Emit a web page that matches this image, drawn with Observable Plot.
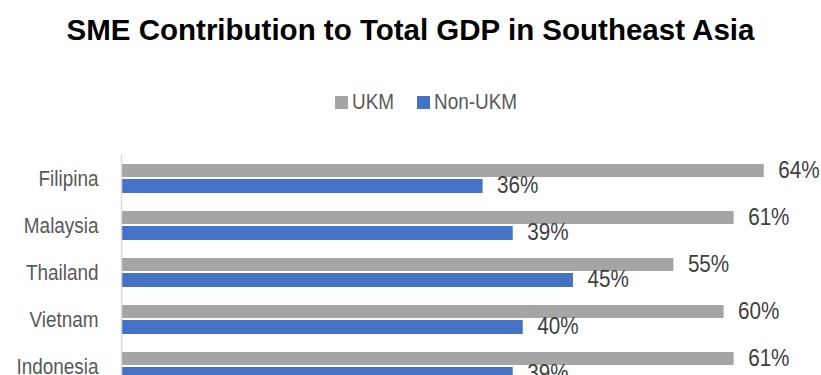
<!DOCTYPE html>
<html>
<head>
<meta charset="utf-8">
<script src="https://cdn.jsdelivr.net/npm/d3@7"></script>
<script src="https://cdn.jsdelivr.net/npm/@observablehq/plot@0.6"></script>
<style>
  html, body { margin: 0; padding: 0; background: #fff; overflow: hidden; width: 821px; height: 375px; }
  #title { height: 60px; line-height: 60px; text-align: center; font-family: "Liberation Sans", Arial, sans-serif; font-weight: bold; font-size: 29.5px; color: #000; white-space: nowrap; }
  #legend { padding-top: 30px; height: 24px; display: flex; justify-content: center; align-items: center; font-family: "Liberation Sans", Arial, sans-serif; font-size: 22px; color: #595959; gap: 23px; margin-left: 32px; }
  .item { display: flex; align-items: center; gap: 4px; }
  .sw { width: 13px; height: 13px; display: inline-block; }
  .lt { display: inline-block; transform-origin: left center; white-space: nowrap; }
  #chart svg { display: block; }
</style>
</head>
<body>
<div id="title">SME Contribution to Total GDP in Southeast Asia</div>
<div id="legend"></div>
<div id="chart"></div>
<script>
const countries = ["Filipina", "Malaysia", "Thailand", "Vietnam", "Indonesia"];
const seriesNames = ["UKM", "Non-UKM"];
const ukm = [64, 61, 55, 60, 61];
const nonUkm = [36, 39, 45, 40, 39];
const colors = ["#A5A5A5", "#4472C4"];
const condense = 0.86;

const legend = document.getElementById("legend");
seriesNames.forEach((s, i) => {
  const it = document.createElement("span");
  it.className = "item";
  it.innerHTML = `<span class="sw" style="background:${colors[i]}"></span><span class="lt">${s}</span>`;
  legend.appendChild(it);
});
legend.querySelectorAll(".lt").forEach(el => {
  const w = el.getBoundingClientRect().width;
  el.style.transform = `scaleX(${condense})`;
  el.style.marginRight = `${-(w * (1 - condense))}px`;
});

const ukmData = countries.map((c, i) => ({country: c, value: ukm[i]}));
const nonData = countries.map((c, i) => ({country: c, value: nonUkm[i]}));

const font = "Liberation Sans, Arial, sans-serif";

const chart = Plot.plot({
  width: 821,
  height: 287,
  marginTop: 41,
  marginBottom: 10,
  marginLeft: 121,
  marginRight: 7,
  style: {fontFamily: font, background: "#fff"},
  x: {domain: [0, 69], axis: null},
  y: {domain: countries, paddingInner: 0.375, paddingOuter: 0.1875, label: null, tickSize: 0, tickPadding: 23},
  marks: [
    Plot.barX(ukmData, {y: "country", x: "value", fill: colors[0], insetBottom: 16}),
    Plot.barX(nonData, {y: "country", x: "value", fill: colors[1], insetTop: 15}),
    Plot.text(ukmData, {y: "country", x: "value", text: d => d.value + "%", textAnchor: "start", dx: 14, dy: -9, fill: "#404040", fontSize: 24}),
    Plot.text(nonData, {y: "country", x: "value", text: d => d.value + "%", textAnchor: "start", dx: 14, dy: 6, fill: "#404040", fontSize: 24}),
    Plot.ruleX([0], {stroke: "#D9D9D9", strokeWidth: 1.5})
  ]
});
chart.querySelectorAll("g[aria-label='y-axis tick label']").forEach(g => {
  g.setAttribute("font-size", 22);
  g.setAttribute("fill", "#595959");
});
document.getElementById("chart").appendChild(chart);
// condensed look (the reference uses a narrow face)
chart.querySelectorAll("text").forEach(t => {
  const len = t.getComputedTextLength();
  if (len > 0) {
    t.setAttribute("textLength", (len * condense).toFixed(2));
    t.setAttribute("lengthAdjust", "spacingAndGlyphs");
  }
});
</script>
</body>
</html>
